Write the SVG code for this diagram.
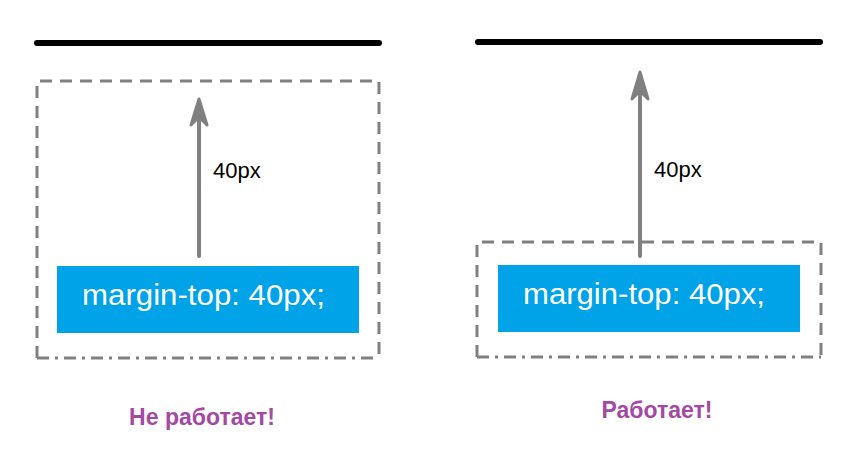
<svg xmlns="http://www.w3.org/2000/svg" width="860" height="468" viewBox="0 0 860 468">
<style>
.bar{stroke:#000;stroke-width:6;stroke-linecap:round}
.dash{fill:none;stroke:#808080;stroke-width:3;stroke-dasharray:12,8}
.dashdot{fill:none;stroke:#808080;stroke-width:3;stroke-dasharray:12,6,3,6}
.box{fill:#00a2e8}
.boxt{font-family:"Liberation Sans",Arial,sans-serif;font-size:30px;fill:#fff}
.lbl{font-family:"Liberation Sans",Arial,sans-serif;font-size:22px;fill:#000}
.res{font-family:"Liberation Sans",Arial,sans-serif;font-size:23px;font-weight:bold;fill:#a349a4;text-anchor:middle}
.arr{stroke:#808080;stroke-width:4;fill:none;stroke-linecap:round}
.head{stroke:#808080;stroke-width:3;fill:#808080;stroke-linejoin:round}
</style>
<g id="left">
<line class="bar" x1="37" y1="43" x2="379" y2="43"/>
<g id="left-container">
<path class="dash" d="M37,358 V81 H379 V358"/>
<line class="dashdot" x1="37" y1="358" x2="379" y2="358"/>
</g>
<g id="left-box">
<rect class="box" x="57" y="266" width="302" height="67"/>
<text class="boxt" x="82" y="305" textLength="243" lengthAdjust="spacingAndGlyphs">margin-top: 40px;</text>
</g>
<text class="lbl" x="213" y="178">40px</text>
<text class="res" x="202" y="425">Не работает!</text>
</g>
<g id="right">
<line class="bar" x1="478" y1="42" x2="820" y2="42"/>
<g id="right-container">
<path class="dash" d="M477,357 V242 H821 V357"/>
<line class="dashdot" x1="477" y1="357" x2="821" y2="357"/>
</g>
<g id="right-box">
<rect class="box" x="498" y="265" width="302" height="67"/>
<text class="boxt" x="523" y="304" textLength="242" lengthAdjust="spacingAndGlyphs">margin-top: 40px;</text>
</g>
<text class="lbl" x="654" y="177">40px</text>
<text class="res" x="657" y="418">Работает!</text>
</g>
<g id="connectors">
<line class="arr" x1="199" y1="256" x2="199" y2="110"/>
<path class="head" d="M199,99 L191,125 L199,117 L207,125 Z"/>
<line class="arr" x1="640" y1="256" x2="640" y2="82"/>
<path class="head" d="M640,72 L632,99 L640,91 L648,99 Z"/>
</g>
</svg>
